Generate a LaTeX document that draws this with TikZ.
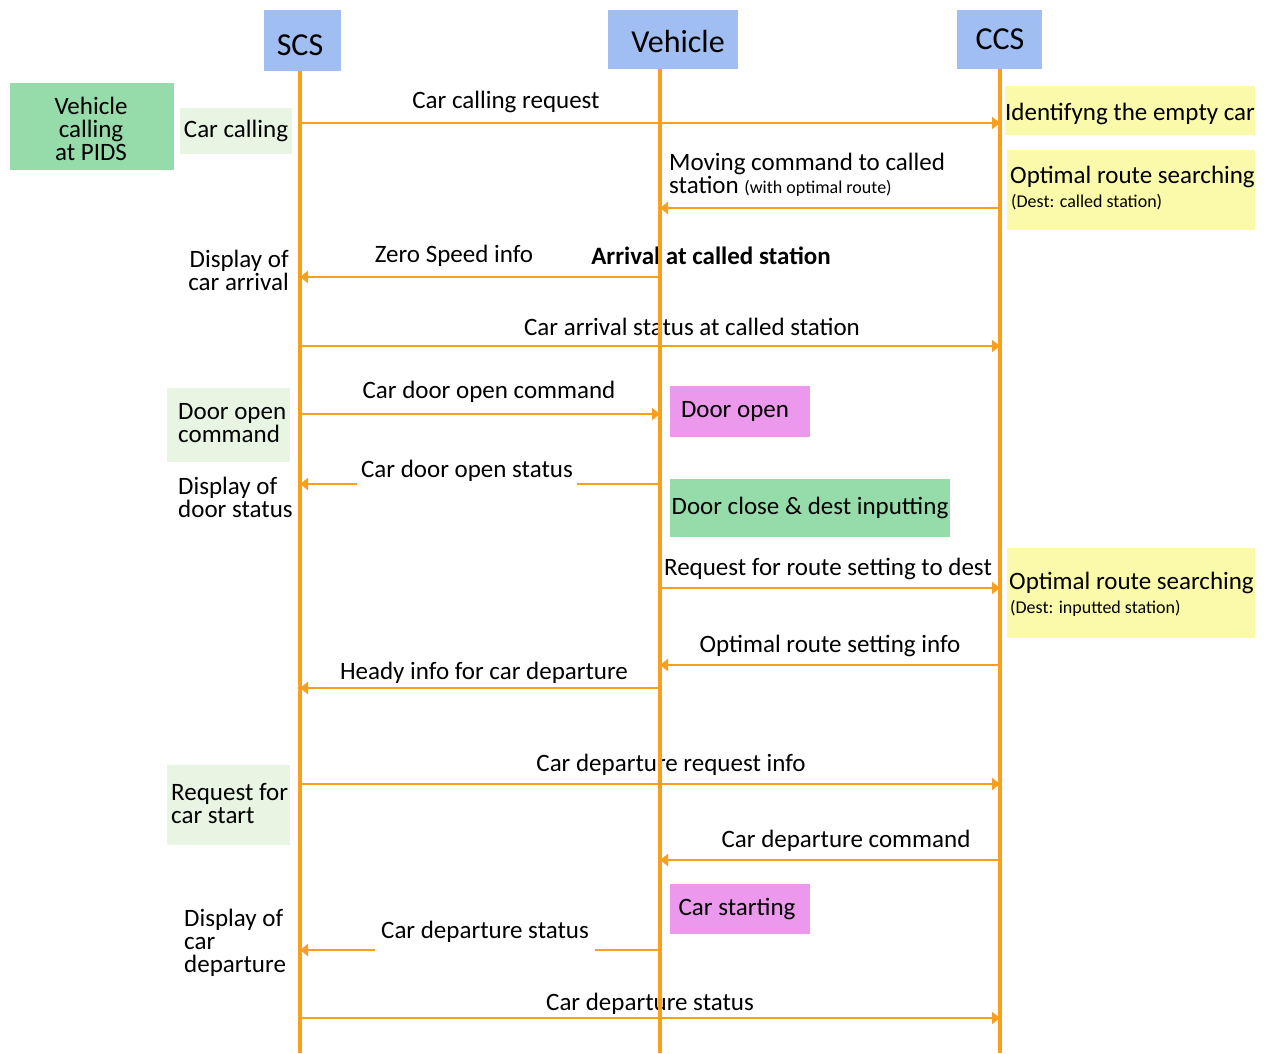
\documentclass[tikz,border=0pt]{standalone}
\usepackage{fontspec}
\setmainfont{Carlito}
\usetikzlibrary{arrows.meta}
\definecolor{lifeor}{RGB}{248,160,30}
\definecolor{hdrblue}{RGB}{160,190,242}
\definecolor{boxgreen}{RGB}{150,220,170}
\definecolor{faintgreen}{RGB}{232,245,226}
\definecolor{boxyellow}{RGB}{250,250,170}
\definecolor{boxmag}{RGB}{236,152,236}
\tikzset{
  every node/.style={font=\fontsize{25}{23}\selectfont, inner sep=0pt},
  hdrtext/.style={font=\fontsize{32}{34}\selectfont},
  life/.style={draw=lifeor, line width=4pt},
  msg/.style={draw=lifeor, line width=2pt, -{Triangle[length=8pt,width=12pt]}},
  gap/.style={fill=white, inner xsep=4pt},
  small/.style={font=\fontsize{18}{20}\selectfont},
}
\begin{document}
\begin{tikzpicture}[x=1pt,y=-1pt]
\useasboundingbox (0,0) rectangle (1270,1053);
% headers
\fill[hdrblue] (264,10) rectangle (341,71);
\node (scsh) at (300,45) [hdrtext] {SCS};
\fill[hdrblue] (608,10) rectangle (738,69);
\node (vehh) at (678,41) [hdrtext] {Vehicle};
\fill[hdrblue] (957,10) rectangle (1042,69);
\node (ccsh) at (1000,39) [hdrtext] {CCS};
% coordinates of lifelines
\coordinate (scsT) at (300,71);
\coordinate (scsB) at (300,1053);
\coordinate (vehT) at (660,69);
\coordinate (vehB) at (660,1053);
\coordinate (ccsT) at (1000,69);
\coordinate (ccsB) at (1000,1053);
% left side boxes
\fill[boxgreen] (10,83) rectangle (174,170);
\node (pids) at (91,129) [align=center] {Vehicle\\calling\\at PIDS};
\fill[faintgreen] (180,108) rectangle (292,154);
\node (carcall) at (236,131) {Car calling};
\node (disparr) [align=right, anchor=east] at (289,270) {Display of\\car arrival};
\fill[faintgreen] (167,388) rectangle (290,462);
\node (dooropencmd) [align=left, anchor=west] at (178,423) {Door open\\command};
\node (dispdoor) [align=left, anchor=west] at (178,497) {Display of\\door status};
\fill[faintgreen] (167,765) rectangle (290,845);
\node (reqstart) [align=left, anchor=west] at (171,804) {Request for\\car start};
\node (dispdep) [align=left, anchor=west] at (184,943) {Display of\\car\\departure};
% right side boxes
\fill[boxyellow] (1005,86) rectangle (1255,135);
\node (ident) at (1130,114) {Identifyng the empty car};
\fill[boxyellow] (1007,150) rectangle (1255,230);
\node (opt1) [anchor=west] at (1010,177) {Optimal route searching};
\node (opt1s) [anchor=west, small] at (1011,202) {(Dest: called station)};
\fill[boxyellow] (1007,548) rectangle (1255,638);
\node (opt2) [anchor=west] at (1009,583) {Optimal route searching};
\node (opt2s) [anchor=west, small] at (1010,608) {(Dest: inputted station)};
% vehicle boxes
\fill[boxmag] (670,386) rectangle (810,437);
\node (dooropen) at (735,411) {Door open};
\fill[boxgreen] (670,479) rectangle (950,537);
\node (doorclose) at (810,508) {Door close \& dest inputting};
\fill[boxmag] (670,884) rectangle (810,934);
\node (carstart) at (737,909) {Car starting};
% message coordinates
\foreach \y [count=\i] in {123,208,277,346,414,484,588,665,688,784,860,950,1018} {
  \coordinate (s\i) at (300,\y);
  \coordinate (v\i) at (660,\y);
  \coordinate (c\i) at (1000,\y);
}
% messages
\draw[msg] (s1) -- (c1);
\node (m1) at (506,102) {Car calling request};
\draw[msg] (c2) -- (v2);
\node (m2) [anchor=west, align=left] at (669,175) {Moving command to called\\station {\fontsize{18}{20}\selectfont (with optimal route)}};
\draw[msg] (v3) -- (s3);
\node (m3) at (454,256) {Zero Speed info};
\node (arr) at (711,256) {\bfseries Arrival at called station};
\draw[msg] (s4) -- (c4);
\node (m4) at (692,327) {Car arrival status at called station};
\draw[msg] (s5) -- (v5);
\node (m5) at (489,392) {Car door open command};
\draw[msg] (v6) -- (s6);
\node (m6) [gap, inner ysep=9pt] at (467,471) {Car door open status};
\draw[msg] (v7) -- (c7);
\node (m7) at (828,569) {Request for route setting to dest};
\draw[msg] (c8) -- (v8);
\node (m8) at (830,646) {Optimal route setting info};
\draw[msg] (v9) -- (s9);
\node (m9) at (484,673) {Heady info for car departure};
\draw[msg] (s10) -- (c10);
\node (m10) at (671,765) {Car departure request info};
\draw[msg] (c11) -- (v11);
\node (m11) at (846,841) {Car departure command};
\draw[msg] (v12) -- (s12);
\node (m12) [gap, inner xsep=6pt, inner ysep=12pt] at (485,932) {Car departure status};
\draw[msg] (s13) -- (c13);
\node (m13) at (650,1004) {Car departure status};
% lifelines on top
\draw[life] (scsT) -- (scsB);
\draw[life] (vehT) -- (vehB);
\draw[life] (ccsT) -- (ccsB);
\end{tikzpicture}
\end{document}
